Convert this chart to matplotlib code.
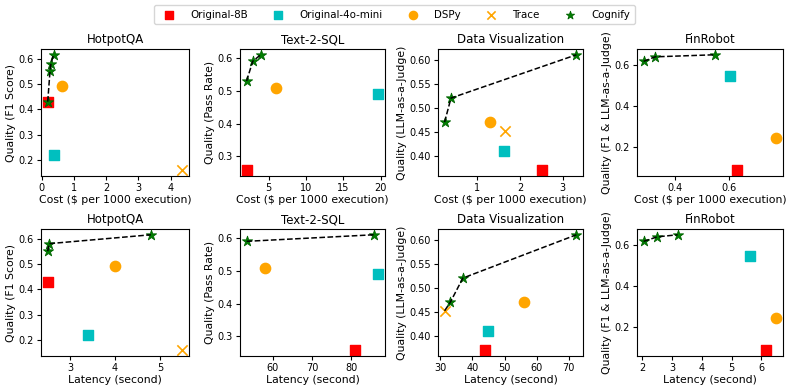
import numpy as np
import matplotlib
matplotlib.use("Agg")
import matplotlib.pyplot as plt

# Baselines, in order: Original-8B, Original-4o-mini, DSPy, Trace (nan = not run)
methods = ["Original-8B", "Original-4o-mini", "DSPy", "Trace"]
colors = ["red", "c", "orange", "orange"]
markers = ["s", "s", "o", "x"]

hotpot_quality = [0.43, 0.22, 0.49, 0.16]
hotpot_cost = [0.19, 0.37, 0.63, 4.36]
hotpot_latency = [2.51, 3.39, 4.0, 5.5]

sql_quality = [0.258, 0.49, 0.51, np.nan]
sql_cost = [2.05, 19.7, 6.0, np.nan]
sql_latency = [81.0, 87.0, 58.0, np.nan]

viz_quality = [0.37, 0.41, 0.47, 0.452]
viz_cost = [2.51, 1.63, 1.3, 1.65]
viz_latency = [43.8, 44.7, 56.0, 31.3]

fin_quality = [0.089, 0.548, 0.247, np.nan]
fin_cost = [0.631, 0.606, 0.777, np.nan]
fin_latency = [6.15, 5.6, 6.5, np.nan]

# Cognify points (frontier)
hotpot_cog_cost = [0.19, 0.26, 0.29, 0.37]
hotpot_cog_cost_q = [0.43, 0.55, 0.58, 0.615]
hotpot_cog_lat = [2.5, 2.53, 4.8]
hotpot_cog_lat_q = [0.55, 0.58, 0.615]

sql_cog_cost = [2.05, 2.87, 3.93]
sql_cog_cost_q = [0.53, 0.59, 0.61]
sql_cog_lat = [53.3, 85.8]
sql_cog_lat_q = [0.59, 0.61]

viz_cog_cost = [0.23, 0.38, 3.32]
viz_cog_cost_q = [0.47, 0.52, 0.61]
viz_cog_lat = [33.1, 37.0, 72.4]
viz_cog_lat_q = [0.47, 0.52, 0.61]
# frontier line in the latency panel starts at the Trace point
viz_line_lat = [31.3, 33.1, 37.0, 72.4]
viz_line_lat_q = [0.452, 0.47, 0.52, 0.61]

fin_cog_cost = [0.283, 0.326, 0.547]
fin_cog_cost_q = [0.62, 0.642, 0.652]
fin_cog_lat = [2.05, 2.51, 3.19]
fin_cog_lat_q = [0.62, 0.642, 0.652]

titles = ["HotpotQA", "Text-2-SQL", "Data Visualization", "FinRobot"]
ylabels = ["Quality (F1 Score)", "Quality (Pass Rate)",
           "Quality (LLM-as-a-Judge)", "Quality (F1 & LLM-as-a-Judge)"]

# tick positions per panel
yticks = [[0.2, 0.3, 0.4, 0.5, 0.6], [0.3, 0.4, 0.5, 0.6],
          [0.40, 0.45, 0.50, 0.55, 0.60], [0.2, 0.4, 0.6]]
xticks_cost = [[0, 1, 2, 3, 4], [5, 10, 15, 20], [1, 2, 3], [0.4, 0.6]]
xticks_lat = [[3, 4, 5], [60, 70, 80], [30, 40, 50, 60, 70], [2, 3, 4, 5, 6]]

panels = [
    # row 1: cost
    (hotpot_cost, hotpot_quality, hotpot_cog_cost, hotpot_cog_cost_q, None, None),
    (sql_cost, sql_quality, sql_cog_cost, sql_cog_cost_q, None, None),
    (viz_cost, viz_quality, viz_cog_cost, viz_cog_cost_q, None, None),
    (fin_cost, fin_quality, fin_cog_cost, fin_cog_cost_q, None, None),
    # row 2: latency
    (hotpot_latency, hotpot_quality, hotpot_cog_lat, hotpot_cog_lat_q, None, None),
    (sql_latency, sql_quality, sql_cog_lat, sql_cog_lat_q, None, None),
    (viz_latency, viz_quality, viz_cog_lat, viz_cog_lat_q, viz_line_lat, viz_line_lat_q),
    (fin_latency, fin_quality, fin_cog_lat, fin_cog_lat_q, None, None),
]

W, H = 789, 391
fig = plt.figure(figsize=(W / 100, H / 100), dpi=100)

cols = [(41, 189), (240, 385), (438, 583), (637, 783)]
rows = [(49, 176), (229, 356)]

handles = None
for k, (x, q, cx, cq, lx, lq) in enumerate(panels):
    r, c = divmod(k, 4)
    x0, x1 = cols[c]
    y0, y1 = rows[r]
    ax = fig.add_axes([x0 / W, 1 - y1 / H, (x1 - x0) / W, (y1 - y0) / H])
    hs = []
    for i, m in enumerate(methods):
        if m == "Trace":
            h = ax.scatter(x[i], q[i], marker="x", color=colors[i], s=55, linewidths=1.2, label=m)
        else:
            h = ax.scatter(x[i], q[i], marker=markers[i], color=colors[i], s=55, label=m)
        hs.append(h)
    hstar = ax.scatter(cx, cq, marker="*", color="green", edgecolors="darkgreen",
                       s=60, linewidths=0.6, zorder=3, label="Cognify")
    hs.append(hstar)
    if lx is None:
        ax.plot(cx, cq, "k--", linewidth=1.1, zorder=4)
    else:
        ax.plot(lx, lq, "k--", linewidth=1.1, zorder=4)
    ax.set_title(titles[c], fontsize=8.5, pad=4)
    ax.set_ylabel(ylabels[c], fontsize=7.8, labelpad=2)
    ax.set_xlabel("Cost ($ per 1000 execution)" if r == 0 else "Latency (second)",
                  fontsize=7.8, labelpad=1.5)
    ax.set_xticks(xticks_cost[c] if r == 0 else xticks_lat[c])
    ax.set_yticks(yticks[c])
    if c == 2:
        ax.set_yticklabels(["%.2f" % v for v in yticks[c]])
    ax.tick_params(axis="both", labelsize=7, length=3, pad=2)
    if k == 0:
        handles = hs

fig.legend(handles, methods + ["Cognify"], loc="upper center", ncol=5,
           bbox_to_anchor=(0.5, 1.0), fontsize=7.4, frameon=True,
           columnspacing=1.9, handletextpad=1.1, borderpad=0.45, markerscale=0.8)

fig.savefig("out.png", dpi=100)
